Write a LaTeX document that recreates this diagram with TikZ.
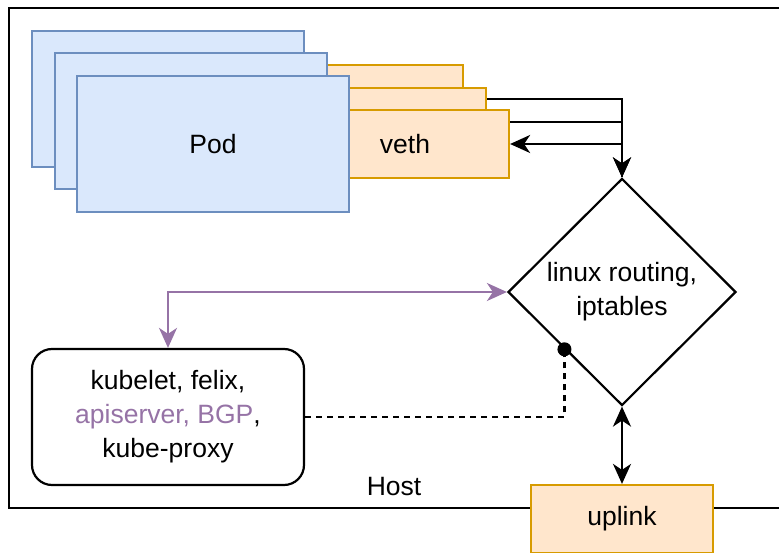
\documentclass[tikz,border=0pt]{standalone}
\usepackage{fontspec}
\setmainfont{Liberation Sans}
\usetikzlibrary{shapes.geometric,arrows.meta,backgrounds,calc}

\definecolor{podfill}{HTML}{DAE8FC}
\definecolor{podline}{HTML}{6C8EBF}
\definecolor{vethfill}{HTML}{FFE6CC}
\definecolor{vethline}{HTML}{D79B00}
\definecolor{ctlpurple}{HTML}{9673A6}

\tikzset{
  fattip/.tip={Stealth[length=20pt,width=18pt,inset=6pt]},
  base/.style={inner sep=0pt, line width=2.2pt, font=\fontsize{26.5}{34}\selectfont, align=center},
  podbox/.style={base, draw=podline, fill=podfill, minimum width=272pt, minimum height=136pt},
  vethbox/.style={base, draw=vethline, fill=vethfill, minimum width=208pt, minimum height=68pt},
  router/.style={base, draw=black, fill=white, diamond, minimum width=228pt, minimum height=227pt},
  agentbox/.style={base, draw=black, fill=white, rounded corners=20pt, minimum width=272pt, minimum height=136pt},
  link/.style={line width=2.2pt, -{fattip}},
  biglink/.style={line width=2.2pt, {fattip}-{fattip}},
  ctllink/.style={line width=2.2pt, draw=ctlpurple, {fattip}-{fattip}},
  mgmt/.style={line width=2.2pt, dash pattern=on 6pt off 5pt},
}

\begin{document}
\begin{tikzpicture}[x=1pt, y=-1pt]
  \useasboundingbox (0,0) rectangle (779,553);
  \clip (0,0) rectangle (779,553);

  % veth interfaces, behind the pods
  \node[vethbox] (veth1) at (359,99) {};
  \node[vethbox] (veth2) at (382,122) {};
  \node[vethbox] (veth3) at (405,144) {};
  \node[base, anchor=center] (vethlabel) at (405,144) {veth};

  % pods
  \node[podbox] (pod1) at (168,99) {};
  \node[podbox] (pod2) at (191,121) {};
  \node[podbox] (pod3) at (213,144) {Pod};

  % routing and iptables
  \node[router] (router) at (622,292) {linux routing,\\iptables};

  % node agents
  \node[agentbox] (agents) at (168,417)
    {kubelet, felix,\\\textcolor{ctlpurple}{apiserver, BGP},\\kube-proxy};

  % uplink interface
  \node[vethbox, minimum width=182pt] (uplink) at (622,519) {uplink};

  % host label
  \node[base] (hostlabel) at (394,487) {Host};

  \coordinate (tap) at ($(router.west)!0.5!(router.south)$);

  \begin{scope}[on background layer]
    % host frame
    \draw[line width=2.2pt] (790,8) -- (9,8) -- (9,508) -- (790,508);
    % veth to routing
    \draw[link] (veth1.east) -| (router.north);
    \draw[link] (veth2.east) -| (router.north);
    \draw[link] (router.north) |- (veth3.east);
  \end{scope}

  % control plane link
  \draw[ctllink] (agents.north) |- (router.west);
  % management of routing rules
  \draw[mgmt] (agents.east) -| (tap);
  \fill (tap) circle (7pt);
  % uplink
  \draw[biglink] (router.south) -- (uplink.north);
\end{tikzpicture}
\end{document}
